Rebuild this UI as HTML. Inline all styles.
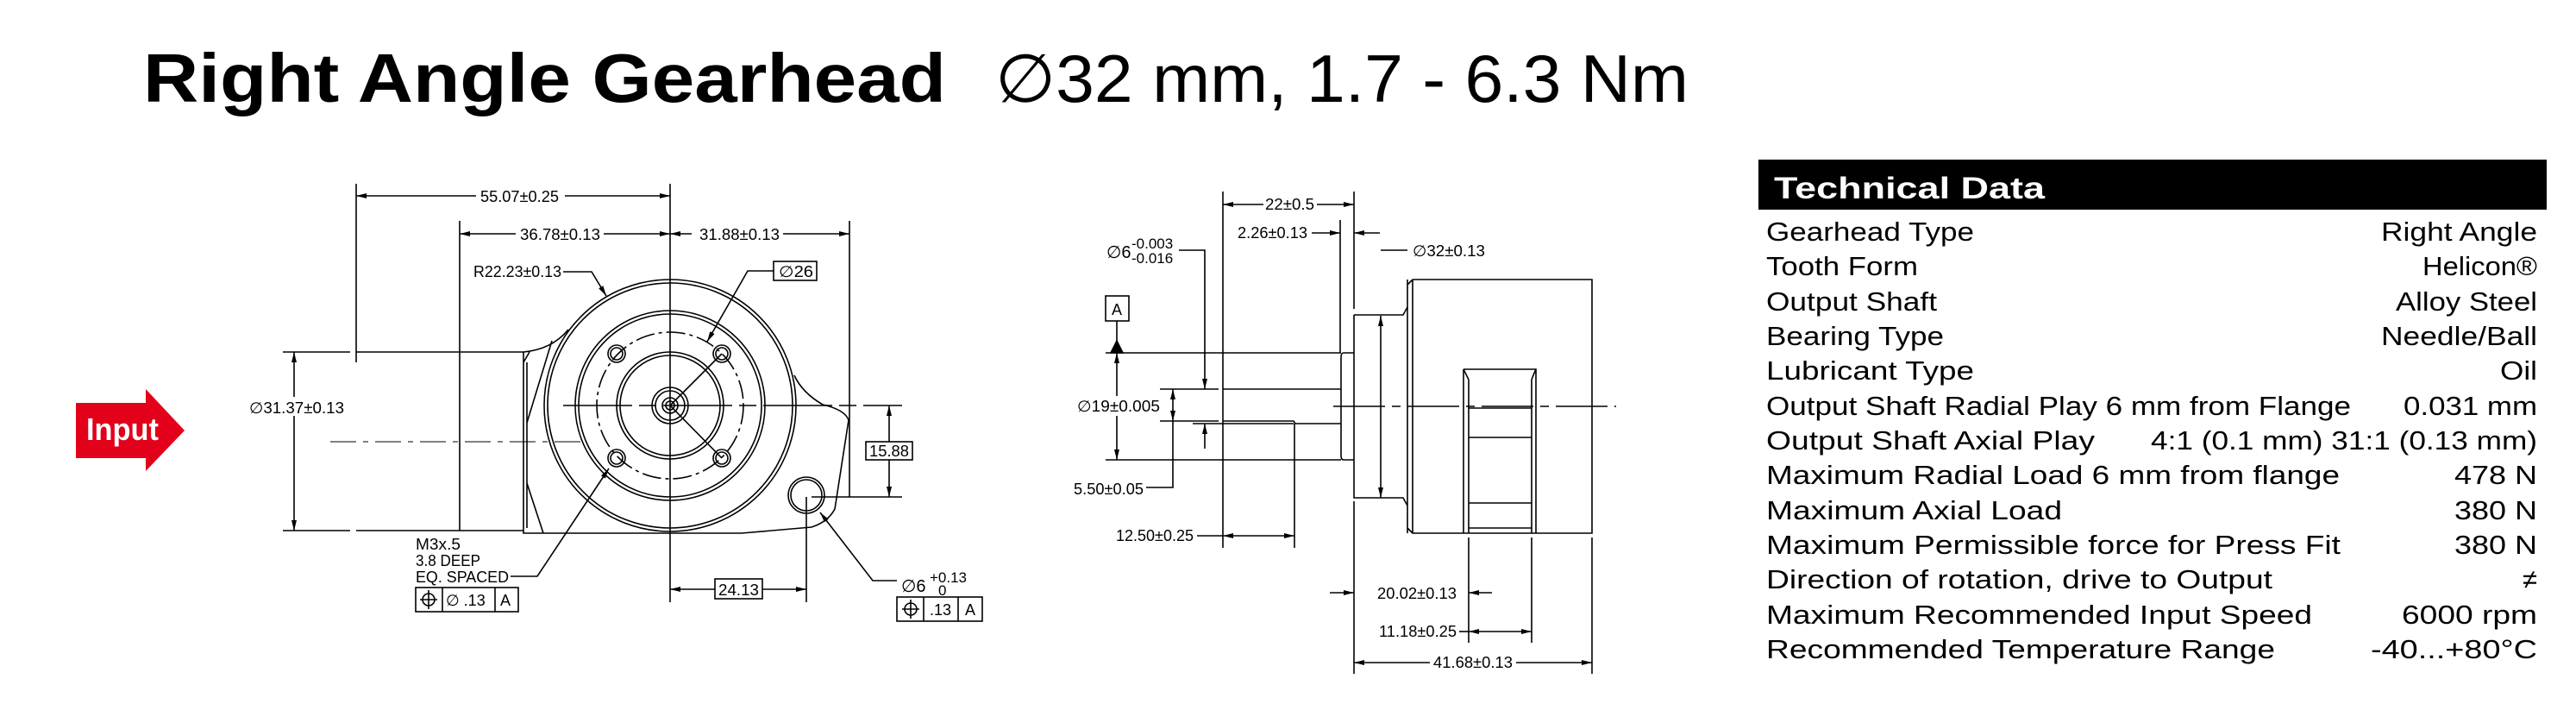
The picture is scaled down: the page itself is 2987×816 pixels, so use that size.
<!DOCTYPE html>
<html><head><meta charset="utf-8"><style>
html,body{margin:0;padding:0;background:#fff;}
svg{display:block;}
</style></head><body>
<svg width="2987" height="816" viewBox="0 0 2987 816" xmlns="http://www.w3.org/2000/svg" font-family="Liberation Sans, sans-serif">
<defs>
<marker id="a" viewBox="0 0 12 6" refX="12" refY="3" markerWidth="12" markerHeight="6" markerUnits="userSpaceOnUse" orient="auto-start-reverse"><path d="M0,0 L12,3 L0,6 z" fill="#000"/></marker>
</defs>
<!-- Title -->
<text x="166" y="118" font-size="80" font-weight="bold" textLength="931" lengthAdjust="spacingAndGlyphs">Right Angle Gearhead</text>
<text x="1154" y="118" font-size="78" textLength="804" lengthAdjust="spacingAndGlyphs">∅32 mm, 1.7 - 6.3 Nm</text>

<!-- Technical data -->
<rect x="2039" y="185" width="914" height="58" fill="#000"/>
<text x="2057" y="230" font-size="35" font-weight="bold" fill="#fff" textLength="314" lengthAdjust="spacingAndGlyphs">Technical Data</text>
<g font-size="31">
<text x="2048" y="279" textLength="241" lengthAdjust="spacingAndGlyphs">Gearhead Type</text>
<text x="2048" y="319" textLength="176" lengthAdjust="spacingAndGlyphs">Tooth Form</text>
<text x="2048" y="360" textLength="198" lengthAdjust="spacingAndGlyphs">Output Shaft</text>
<text x="2048" y="400" textLength="206" lengthAdjust="spacingAndGlyphs">Bearing Type</text>
<text x="2048" y="440" textLength="241" lengthAdjust="spacingAndGlyphs">Lubricant Type</text>
<text x="2048" y="481" textLength="678" lengthAdjust="spacingAndGlyphs">Output Shaft Radial Play 6 mm from Flange</text>
<text x="2048" y="521" textLength="381" lengthAdjust="spacingAndGlyphs">Output Shaft Axial Play</text>
<text x="2048" y="561" textLength="665" lengthAdjust="spacingAndGlyphs">Maximum Radial Load 6 mm from flange</text>
<text x="2048" y="602" textLength="343" lengthAdjust="spacingAndGlyphs">Maximum Axial Load</text>
<text x="2048" y="642" textLength="666" lengthAdjust="spacingAndGlyphs">Maximum Permissible force for Press Fit</text>
<text x="2048" y="682" textLength="587" lengthAdjust="spacingAndGlyphs">Direction of rotation, drive to Output</text>
<text x="2048" y="723" textLength="633" lengthAdjust="spacingAndGlyphs">Maximum Recommended Input Speed</text>
<text x="2048" y="763" textLength="590" lengthAdjust="spacingAndGlyphs">Recommended Temperature Range</text>
<g text-anchor="end">
<text x="2942" y="279" textLength="181" lengthAdjust="spacingAndGlyphs">Right Angle</text>
<text x="2942" y="319" textLength="133" lengthAdjust="spacingAndGlyphs">Helicon®</text>
<text x="2942" y="360" textLength="164" lengthAdjust="spacingAndGlyphs">Alloy Steel</text>
<text x="2942" y="400" textLength="181" lengthAdjust="spacingAndGlyphs">Needle/Ball</text>
<text x="2942" y="440" textLength="43" lengthAdjust="spacingAndGlyphs">Oil</text>
<text x="2942" y="481" textLength="155" lengthAdjust="spacingAndGlyphs">0.031 mm</text>
<text x="2942" y="521" textLength="448" lengthAdjust="spacingAndGlyphs">4:1 (0.1 mm) 31:1 (0.13 mm)</text>
<text x="2942" y="561" textLength="96" lengthAdjust="spacingAndGlyphs">478 N</text>
<text x="2942" y="602" textLength="96" lengthAdjust="spacingAndGlyphs">380 N</text>
<text x="2942" y="642" textLength="96" lengthAdjust="spacingAndGlyphs">380 N</text>
<text x="2942" y="682">≠</text>
<text x="2942" y="723" textLength="157" lengthAdjust="spacingAndGlyphs">6000 rpm</text>
<text x="2942" y="763" textLength="193" lengthAdjust="spacingAndGlyphs">-40...+80°C</text>
</g></g>

<!-- Input arrow -->
<path d="M88,467 L169,467 L169,451 L214,499 L169,546 L169,531 L88,531 z" fill="#e2001a"/>
<text x="100" y="510" font-size="36" font-weight="bold" fill="#fff" textLength="84" lengthAdjust="spacingAndGlyphs">Input</text>

<!-- Left view -->
<g stroke="#000" stroke-width="1.6" fill="none">
<line x1="413" y1="213" x2="413" y2="420"/>
<line x1="777" y1="213" x2="777" y2="698"/>
<line x1="533" y1="256" x2="533" y2="615"/>
<line x1="985" y1="256" x2="985" y2="576"/>
<line x1="328" y1="408" x2="406" y2="408"/>
<line x1="328" y1="615" x2="406" y2="615"/>
<line x1="413" y1="227" x2="552" y2="227" marker-start="url(#a)"/>
<line x1="655" y1="227" x2="777" y2="227" marker-end="url(#a)"/>
<line x1="533" y1="271" x2="598" y2="271" marker-start="url(#a)"/>
<line x1="700" y1="271" x2="777" y2="271" marker-end="url(#a)"/>
<line x1="777" y1="271" x2="802" y2="271" marker-start="url(#a)"/>
<line x1="908" y1="271" x2="985" y2="271" marker-end="url(#a)"/>
<line x1="341" y1="408" x2="341" y2="460" marker-start="url(#a)"/>
<line x1="341" y1="482" x2="341" y2="615" marker-end="url(#a)"/>
<path d="M413,408 L607,408 M413,615 L607,615"/>
<path d="M607,408 L607,618 L860,618 L941,611 Q960,605 968,590 L984,487 Q980,475 954,469 Q930,455 921,435"/>
<path d="M607,408 Q640,405 659,382"/>
<path d="M611,420 L611,612 M607,420 L614,408"/>
<path d="M611,490 L640,395 M611,560 L630,618"/>
<circle cx="777" cy="470" r="146"/>
<circle cx="777" cy="470" r="142"/>
<circle cx="777" cy="470" r="110"/>
<circle cx="777" cy="470" r="106"/>
<circle cx="777" cy="470" r="85" stroke-dasharray="22 5 4 5"/>
<circle cx="777" cy="470" r="62"/>
<circle cx="777" cy="470" r="58"/>
<circle cx="777" cy="470" r="21"/>
<circle cx="777" cy="470" r="17"/>
<circle cx="777" cy="470" r="9"/>
<circle cx="777" cy="470" r="5"/>
<circle cx="715" cy="410" r="10"/><circle cx="715" cy="410" r="7"/>
<circle cx="837" cy="410" r="10"/><circle cx="837" cy="410" r="7"/>
<circle cx="715" cy="531" r="10"/><circle cx="715" cy="531" r="7"/>
<circle cx="837" cy="531" r="10"/><circle cx="837" cy="531" r="7"/>
<circle cx="935" cy="574" r="21"/><circle cx="935" cy="574" r="18"/>
<line x1="653" y1="470" x2="1046" y2="470" stroke-dasharray="80 8 20 8"/>
<line x1="383" y1="512" x2="673" y2="512" stroke-width="1" stroke-dasharray="30 8 6 8"/>
<line x1="941" y1="576" x2="1046" y2="576"/>
<line x1="935" y1="576" x2="935" y2="698"/>
<line x1="1031" y1="470" x2="1031" y2="512" marker-start="url(#a)"/>
<line x1="1031" y1="533" x2="1031" y2="576" marker-end="url(#a)"/>
<rect x="1004" y="512" width="54" height="21"/>
<line x1="777" y1="683" x2="829" y2="683" marker-start="url(#a)"/>
<line x1="884" y1="683" x2="935" y2="683" marker-end="url(#a)"/>
<rect x="829" y="671" width="55" height="23"/>
<path d="M653,315 L686,315 L703,343" marker-end="url(#a)"/>
<rect x="897" y="303" width="50" height="22"/>
<path d="M897,314 L867,314 L820,396" marker-end="url(#a)"/>
<path d="M837,410 L777,470 L837,531"/>
<path d="M592,668 L623,668 L706,543" marker-end="url(#a)"/>
<rect x="482" y="681" width="119" height="28"/>
<line x1="513" y1="681" x2="513" y2="709"/><line x1="574" y1="681" x2="574" y2="709"/>
<circle cx="497" cy="695" r="7"/><line x1="487" y1="695" x2="507" y2="695"/><line x1="497" y1="684" x2="497" y2="706"/>
<path d="M1040,673 L1012,673 L951,594" marker-end="url(#a)"/>
<rect x="1040" y="692" width="99" height="28"/>
<line x1="1071" y1="692" x2="1071" y2="720"/><line x1="1111" y1="692" x2="1111" y2="720"/>
<circle cx="1056" cy="706" r="7"/><line x1="1046" y1="706" x2="1066" y2="706"/><line x1="1056" y1="695" x2="1056" y2="717"/>
</g>
<g font-size="18" fill="#000">
<text x="557" y="234" textLength="91" lengthAdjust="spacingAndGlyphs">55.07±0.25</text>
<text x="603" y="278" textLength="93" lengthAdjust="spacingAndGlyphs">36.78±0.13</text>
<text x="811" y="278" textLength="93" lengthAdjust="spacingAndGlyphs">31.88±0.13</text>
<text x="289" y="479" textLength="110" lengthAdjust="spacingAndGlyphs">∅31.37±0.13</text>
<text x="549" y="321" textLength="102" lengthAdjust="spacingAndGlyphs">R22.23±0.13</text>
<text x="903" y="321" textLength="40" lengthAdjust="spacingAndGlyphs">∅26</text>
<text x="1008" y="529" textLength="46" lengthAdjust="spacingAndGlyphs">15.88</text>
<text x="833" y="690" textLength="47" lengthAdjust="spacingAndGlyphs">24.13</text>
<text x="482" y="637" textLength="52" lengthAdjust="spacingAndGlyphs">M3x.5</text>
<text x="482" y="656" textLength="75" lengthAdjust="spacingAndGlyphs">3.8 DEEP</text>
<text x="482" y="675" textLength="108" lengthAdjust="spacingAndGlyphs">EQ. SPACED</text>
<text x="517" y="702">∅ .13</text>
<text x="580" y="702">A</text>
<text x="1045" y="686" font-size="20">∅6</text>
<text x="1078" y="675" font-size="17">+0.13</text>
<text x="1088" y="690" font-size="17">0</text>
<text x="1078" y="713">.13</text>
<text x="1119" y="713">A</text>
</g>

<!-- Right (side) view -->
<g stroke="#000" stroke-width="1.6" fill="none">
<line x1="1418" y1="222" x2="1418" y2="635"/>
<line x1="1570" y1="222" x2="1570" y2="358"/>
<line x1="1570" y1="581" x2="1570" y2="781"/>
<line x1="1554" y1="255" x2="1554" y2="409"/>
<line x1="1418" y1="237" x2="1465" y2="237" marker-start="url(#a)"/>
<line x1="1527" y1="237" x2="1570" y2="237" marker-end="url(#a)"/>
<line x1="1521" y1="270" x2="1554" y2="270" marker-end="url(#a)"/>
<line x1="1600" y1="270" x2="1570" y2="270" marker-end="url(#a)"/>
<path d="M1367,290 L1397,290 L1397,451" marker-end="url(#a)"/>
<path d="M1632,290 L1601,290"/>
<line x1="1601" y1="366" x2="1601" y2="577" marker-start="url(#a)" marker-end="url(#a)"/>
<path d="M1570,365 L1627,365 L1632,356 M1570,365 L1570,577 L1627,577 L1632,586"/>
<path d="M1632,324 L1632,618 M1638,324 L1846,324 L1846,618 L1638,618 L1638,324 M1632,330 L1638,324 M1632,612 L1638,618"/>
<path d="M1697,428 L1781,428 L1781,618 M1697,428 L1697,618 M1703,440 Q1699,432 1697,428 M1703,440 L1703,618 M1776,440 Q1779,432 1781,428 M1776,440 L1776,618"/>
<path d="M1703,473 L1776,473 M1703,507 L1776,507 M1703,583 L1776,583 M1703,612 L1776,612"/>
<path d="M1570,409 L1558,409 Q1555,409 1555,414 L1555,528 Q1555,533 1558,533 L1570,533"/>
<path d="M1418,451 L1555,451 M1418,488 L1500,488 L1502,491 L1555,491"/>
<line x1="1282" y1="409" x2="1555" y2="409"/>
<line x1="1282" y1="533" x2="1555" y2="533"/>
<rect x="1282" y="343" width="27" height="29"/>
<line x1="1295" y1="372" x2="1295" y2="396"/>
<path d="M1288,409 L1295,395 L1302,409 z" fill="#000"/>
<line x1="1295" y1="409" x2="1295" y2="459" marker-start="url(#a)"/>
<line x1="1295" y1="482" x2="1295" y2="533" marker-end="url(#a)"/>
<line x1="1345" y1="451" x2="1413" y2="451"/>
<line x1="1345" y1="488" x2="1413" y2="488"/>
<line x1="1360" y1="451" x2="1360" y2="488" marker-start="url(#a)" marker-end="url(#a)"/>
<path d="M1329,565 L1360,565 L1360,488"/>
<line x1="1383" y1="491" x2="1500" y2="491"/>
<line x1="1397" y1="520" x2="1397" y2="491" marker-end="url(#a)"/>
<line x1="1501" y1="491" x2="1501" y2="635"/>
<line x1="1418" y1="621" x2="1501" y2="621" marker-start="url(#a)" marker-end="url(#a)"/>
<line x1="1388" y1="621" x2="1418" y2="621"/>
<line x1="1546" y1="471" x2="1874" y2="471" stroke-dasharray="60 8 10 8"/>
<line x1="1542" y1="687" x2="1570" y2="687" marker-end="url(#a)"/>
<line x1="1730" y1="687" x2="1703" y2="687" marker-end="url(#a)"/>
<line x1="1703" y1="623" x2="1703" y2="745"/>
<line x1="1776" y1="623" x2="1776" y2="745"/>
<line x1="1846" y1="623" x2="1846" y2="781"/>
<line x1="1692" y1="732" x2="1703" y2="732"/>
<line x1="1703" y1="732" x2="1776" y2="732" marker-start="url(#a)" marker-end="url(#a)"/>
<line x1="1570" y1="768" x2="1658" y2="768" marker-start="url(#a)"/>
<line x1="1758" y1="768" x2="1846" y2="768" marker-end="url(#a)"/>
</g>
<g font-size="18" fill="#000">
<text x="1467" y="243" textLength="57" lengthAdjust="spacingAndGlyphs">22±0.5</text>
<text x="1435" y="276" textLength="81" lengthAdjust="spacingAndGlyphs">2.26±0.13</text>
<text x="1283" y="299" font-size="20">∅6</text>
<text x="1312" y="288" font-size="17">-0.003</text>
<text x="1312" y="305" font-size="17">-0.016</text>
<text x="1638" y="297" textLength="84" lengthAdjust="spacingAndGlyphs">∅32±0.13</text>
<text x="1289" y="365">A</text>
<text x="1249" y="477" textLength="96" lengthAdjust="spacingAndGlyphs">∅19±0.005</text>
<text x="1245" y="573" textLength="81" lengthAdjust="spacingAndGlyphs">5.50±0.05</text>
<text x="1294" y="627" textLength="90" lengthAdjust="spacingAndGlyphs">12.50±0.25</text>
<text x="1597" y="694" textLength="92" lengthAdjust="spacingAndGlyphs">20.02±0.13</text>
<text x="1599" y="738" textLength="90" lengthAdjust="spacingAndGlyphs">11.18±0.25</text>
<text x="1662" y="774" textLength="92" lengthAdjust="spacingAndGlyphs">41.68±0.13</text>
</g>
</svg>
</body></html>
